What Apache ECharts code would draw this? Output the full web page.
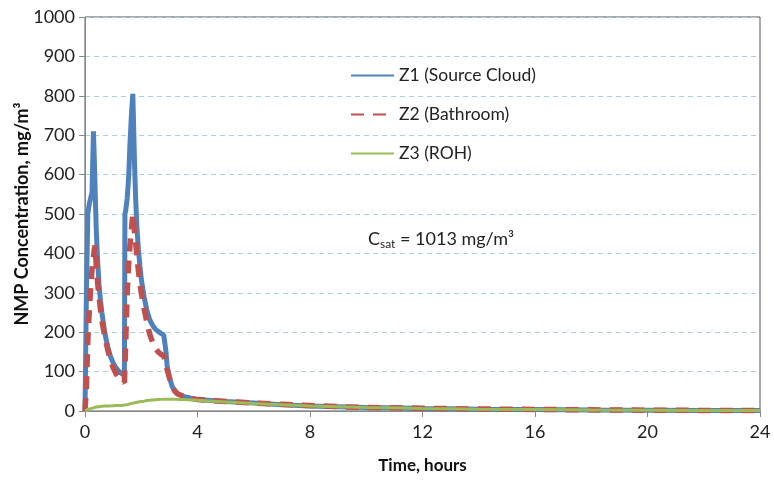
<!DOCTYPE html>
<html>
<head>
<meta charset="utf-8">
<script src="https://cdn.jsdelivr.net/npm/echarts@6/dist/echarts.min.js"></script>
<style>html,body{margin:0;padding:0;background:#fff}#c{width:774px;height:480px}</style>
</head>
<body>
<div id="c"></div>
<script>
var times = [0, 0.05, 0.1, 0.15, 0.2, 0.25, 0.3, 0.33, 0.36, 0.4, 0.45, 0.5, 0.55, 0.6, 0.7, 0.8, 0.9, 1.0, 1.1, 1.2, 1.3, 1.4, 1.42, 1.45, 1.5, 1.55, 1.6, 1.65, 1.7, 1.73, 1.76, 1.8, 1.85, 1.9, 1.95, 2.0, 2.1, 2.2, 2.3, 2.4, 2.5, 2.6, 2.7, 2.8, 2.85, 2.88, 2.92, 3.0, 3.1, 3.2, 3.3, 3.5, 3.8, 4, 5, 6, 7, 8, 9, 10, 11, 12, 13, 14, 16, 18, 20, 22, 24];
var z1 = [0, 300, 500, 525, 540, 555, 710, 640, 560, 460, 380, 320, 280, 250, 200, 165, 140, 122, 110, 101, 95, 90, 500, 510, 540, 590, 680, 750, 805, 720, 630, 540, 460, 410, 370, 335, 290, 255, 232, 218, 208, 202, 197, 193, 190, 150, 115, 85, 62, 50, 43, 37, 32, 29, 24, 20, 16, 13, 11, 9, 8, 6.5, 5.5, 4.5, 3.5, 2.5, 2, 1.5, 1];
var z2 = [0, 60, 180, 250, 310, 360, 390, 410, 420, 370, 325, 290, 258, 230, 190, 158, 130, 110, 95, 85, 78, 72, 110, 180, 300, 370, 420, 460, 500, 480, 455, 430, 390, 355, 325, 300, 260, 225, 195, 175, 160, 150, 144, 140, 135, 120, 105, 85, 62, 50, 43, 37, 32, 29, 24, 20, 17, 14, 11, 9, 8, 7, 6, 5, 4, 3, 2, 1.5, 1];
var z3 = [0, 2, 4, 5, 6, 7, 8, 8.5, 9, 10, 10.5, 11, 11.5, 12, 12.5, 13, 13, 13.5, 14, 14, 14, 15, 15, 15.5, 16, 17, 18, 19, 20, 20.5, 21, 21.5, 22, 23, 23.5, 24, 25, 26.5, 27.5, 28, 28.5, 29, 29.5, 30, 30, 30, 30, 30, 30, 30, 29.5, 29, 28, 27, 23, 19, 16, 13, 11, 9, 8, 6.5, 5.5, 4.5, 3.5, 2.5, 2, 1.5, 1];
var seriesNames = ['Z1 (Source Cloud)', 'Z2 (Bathroom)', 'Z3 (ROH)'];
var xTicks = [0, 4, 8, 12, 16, 20, 24];

function pairs(v) { return times.map(function (t, i) { return [t, v[i]]; }); }

var font = 'Lato, "Liberation Sans", sans-serif';
var chart = echarts.init(document.getElementById('c'), null, { renderer: 'canvas' });
chart.setOption({
  animation: false,
  backgroundColor: '#fff',
  grid: { left: 85, right: 14, top: 17, bottom: 69, outerBoundsMode: 'none', containLabel: false, show: true, borderColor: '#555', borderWidth: 1, backgroundColor: 'transparent' },
  legend: {
    orient: 'vertical', left: 345, top: 60, itemWidth: 43, itemHeight: 14, itemGap: 18,
    itemStyle: { opacity: 0 },
    textStyle: { fontFamily: font, fontSize: 17.5, color: '#222', lineHeight: 21 },
    data: seriesNames
  },
  xAxis: {
    type: 'value', min: 0, max: 24, interval: 4,
    name: 'Time, hours', nameLocation: 'middle', nameGap: 46, nameMoveOverlap: false,
    nameTextStyle: { fontFamily: font, fontSize: 17, fontWeight: 'bold', color: '#111' },
    axisLine: { show: true, lineStyle: { color: '#888', width: 1 } },
    axisTick: { show: true, inside: false, length: 6, lineStyle: { color: '#888' } },
    axisLabel: { fontFamily: font, fontSize: 18, color: '#222', margin: 12, formatter: function (v) { return xTicks.indexOf(v) >= 0 ? String(v) : ''; } },
    splitLine: { show: false }
  },
  yAxis: {
    type: 'value', min: 0, max: 1000, interval: 100,
    name: 'NMP Concentration, mg/m³', nameLocation: 'middle', nameGap: 54, nameMoveOverlap: false,
    nameTextStyle: { fontFamily: font, fontSize: 18, fontWeight: 'bold', color: '#111' },
    axisLine: { show: true, lineStyle: { color: '#888', width: 1 } },
    axisTick: { show: true, inside: false, length: 6, lineStyle: { color: '#888' } },
    axisLabel: { fontFamily: font, fontSize: 18, color: '#222', margin: 10, formatter: function (v) { return String(v); } },
    splitLine: { show: true, lineStyle: { color: '#a9d3e0', type: [5, 4], width: 1 } }
  },
  graphic: [{
    type: 'text', left: 368, top: 230, z: 10,
    style: {
      text: '{a|C}{b|sat}{a| = 1013 mg/m³}',
      rich: {
        a: { fontFamily: font, fontSize: 18, fill: '#222' },
        b: { fontFamily: font, fontSize: 12, fill: '#222', padding: [10, 0, 0, 0] }
      }
    }
  }],
  series: [
    { name: seriesNames[0], type: 'line', data: pairs(z1), showSymbol: false, symbol: 'none',
      lineStyle: { color: '#4F81BD', width: 5 }, itemStyle: { color: '#4F81BD' }, z: 2 },
    { name: seriesNames[1], type: 'line', data: pairs(z2), showSymbol: false, symbol: 'none',
      lineStyle: { color: '#C0504D', width: 5.5, type: [13, 9] }, itemStyle: { color: '#C0504D' }, z: 3 },
    { name: seriesNames[2], type: 'line', data: pairs(z3), showSymbol: false, symbol: 'none',
      lineStyle: { color: '#9BBB59', width: 3 }, itemStyle: { color: '#9BBB59' }, z: 4 }
  ]
});
</script>
</body>
</html>
